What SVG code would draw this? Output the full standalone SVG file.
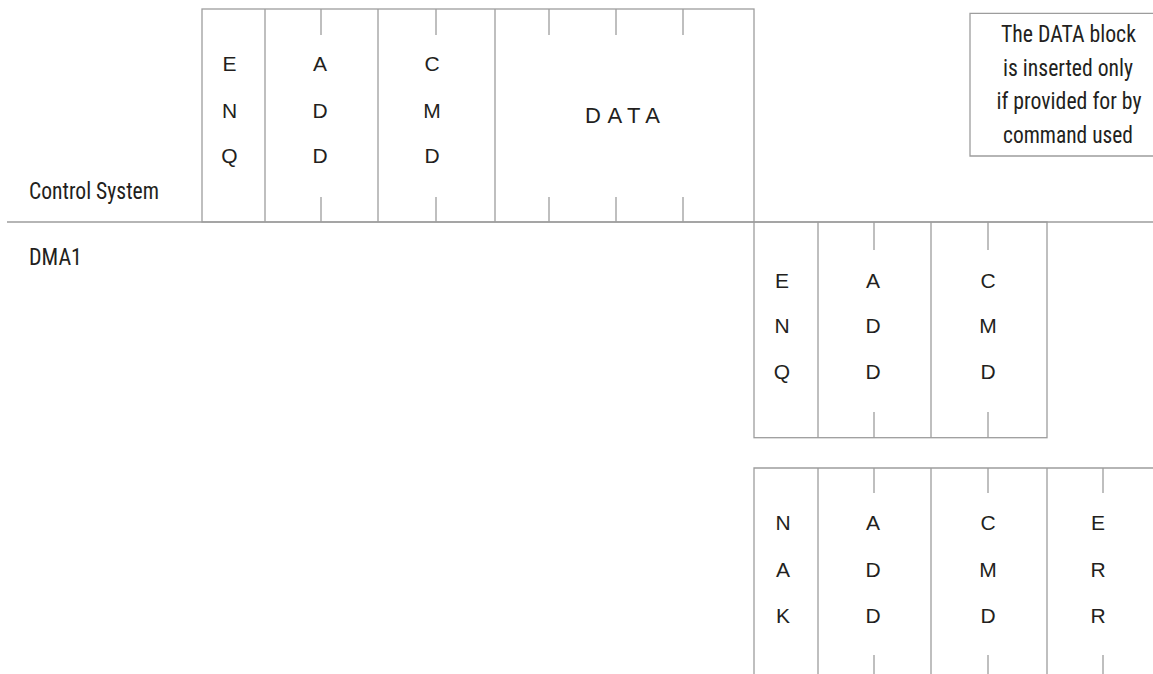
<svg xmlns="http://www.w3.org/2000/svg" width="1153" height="674" viewBox="0 0 1153 674">
<style>
.ln{stroke:#9d9d9d;stroke-width:1.3;fill:none}
.lt{font-family:"Liberation Sans",Arial,sans-serif;font-size:21px;fill:#231f20;text-anchor:middle}
.cn{font-family:"Liberation Sans Narrow","Roboto Condensed","DejaVu Sans Condensed","Liberation Sans",sans-serif;font-stretch:condensed;font-size:23px;fill:#231f20}
</style>
<rect width="1153" height="674" fill="#ffffff"/>
<g id="lanes">
<line class="ln" x1="7" y1="222" x2="1153" y2="222"/>
<text class="cn" x="29" y="199" textLength="130" lengthAdjust="spacingAndGlyphs">Control System</text>
<text class="cn" x="29" y="265" textLength="53" lengthAdjust="spacingAndGlyphs">DMA1</text>
</g>
<g id="frame-control">
<rect class="ln" x="202" y="9" width="552" height="213"/>
<path class="ln" d="M265,9V222M378,9V222M495,9V222"/>
<path class="ln" d="M321,9V35M321,197V222M436,9V35M436,197V222M549,9V35M549,197V222M616,9V35M616,197V222M683,9V35M683,197V222"/>
<text class="lt" x="229.5" y="70.5">E</text><text class="lt" x="229.5" y="117.5">N</text><text class="lt" x="229.5" y="163">Q</text>
<text class="lt" x="320" y="70.5">A</text><text class="lt" x="320" y="117.5">D</text><text class="lt" x="320" y="163">D</text>
<text class="lt" x="432" y="70.5">C</text><text class="lt" x="432" y="117.5">M</text><text class="lt" x="432" y="163">D</text>
<text x="585" y="122.7" style="font-family:'Liberation Sans',Arial,sans-serif;font-size:22px;fill:#231f20;letter-spacing:6.5px">DATA</text>
</g>
<g id="frame-enq">
<rect class="ln" x="754" y="222" width="293" height="215.7"/>
<path class="ln" d="M818,222V437.7M931,222V437.7"/>
<path class="ln" d="M874,222V250M874,412V437.7M988,222V250M988,412V437.7"/>
<text class="lt" x="782" y="287.5">E</text><text class="lt" x="782" y="333">N</text><text class="lt" x="782" y="378.5">Q</text>
<text class="lt" x="873" y="287.5">A</text><text class="lt" x="873" y="333">D</text><text class="lt" x="873" y="378.5">D</text>
<text class="lt" x="988" y="287.5">C</text><text class="lt" x="988" y="333">M</text><text class="lt" x="988" y="378.5">D</text>
</g>
<g id="frame-nak">
<path class="ln" d="M1153,468H754V674M818,468V674M931,468V674M1047,468V674"/>
<path class="ln" d="M874,468V493M874,655V674M988,468V493M988,655V674M1103,468V493M1103,655V674"/>
<text class="lt" x="783" y="530">N</text><text class="lt" x="783" y="576.5">A</text><text class="lt" x="783" y="622.5">K</text>
<text class="lt" x="873" y="530">A</text><text class="lt" x="873" y="576.5">D</text><text class="lt" x="873" y="622.5">D</text>
<text class="lt" x="988" y="530">C</text><text class="lt" x="988" y="576.5">M</text><text class="lt" x="988" y="622.5">D</text>
<text class="lt" x="1098" y="530">E</text><text class="lt" x="1098" y="576.5">R</text><text class="lt" x="1098" y="622.5">R</text>
</g>
<g id="note">
<path class="ln" d="M1153,13.3H970V156H1153"/>
<text class="cn" x="1001" y="41.7" textLength="135" lengthAdjust="spacingAndGlyphs">The DATA block</text>
<text class="cn" x="1003" y="75.5" textLength="130" lengthAdjust="spacingAndGlyphs">is inserted only</text>
<text class="cn" x="996.5" y="109.3" textLength="145" lengthAdjust="spacingAndGlyphs">if provided for by</text>
<text class="cn" x="1003" y="143" textLength="130" lengthAdjust="spacingAndGlyphs">command used</text>
</g>
</svg>
